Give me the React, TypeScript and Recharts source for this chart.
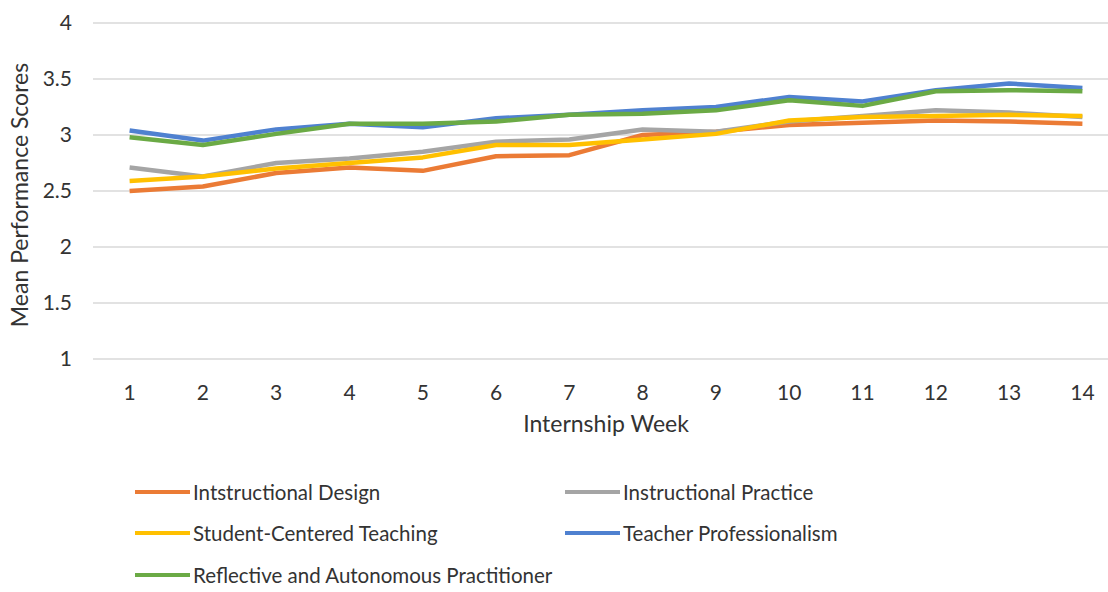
import { LineChart, Line, XAxis, YAxis, CartesianGrid, Label } from "recharts";

const weeks = ["1", "2", "3", "4", "5", "6", "7", "8", "9", "10", "11", "12", "13", "14"];

const instructionalDesign = [2.5, 2.54, 2.66, 2.71, 2.68, 2.81, 2.82, 3.0, 3.03, 3.09, 3.11, 3.13, 3.12, 3.1];
const instructionalPractice = [2.71, 2.63, 2.75, 2.79, 2.85, 2.94, 2.96, 3.05, 3.03, 3.12, 3.17, 3.22, 3.2, 3.16];
const studentCentered = [2.59, 2.63, 2.7, 2.75, 2.8, 2.91, 2.91, 2.96, 3.01, 3.13, 3.16, 3.17, 3.18, 3.17];
const professionalism = [3.04, 2.95, 3.05, 3.1, 3.07, 3.15, 3.18, 3.22, 3.25, 3.34, 3.3, 3.4, 3.46, 3.42];
const reflective = [2.98, 2.91, 3.01, 3.1, 3.1, 3.12, 3.18, 3.19, 3.22, 3.31, 3.26, 3.39, 3.4, 3.39];

const yTicks = [1, 1.5, 2, 2.5, 3, 3.5, 4];

const series = [
  { key: "design", name: "Intstructional Design", values: instructionalDesign, color: "#EB7B35" },
  { key: "practice", name: "Instructional Practice", values: instructionalPractice, color: "#A5A5A5" },
  { key: "student", name: "Student-Centered Teaching", values: studentCentered, color: "#FFC000" },
  { key: "prof", name: "Teacher Professionalism", values: professionalism, color: "#4F81D0" },
  { key: "reflect", name: "Reflective and Autonomous Practitioner", values: reflective, color: "#6BAA45" },
];

const data = weeks.map((week, i) => {
  const row: Record<string, string | number> = { week };
  series.forEach((s) => {
    row[s.key] = s.values[i];
  });
  return row;
});

const FONT = "Lato, 'Open Sans', sans-serif";
const TEXT = "#333333";

export default function App() {
  return (
    <div
      style={{
        position: "absolute",
        left: 0,
        top: 0,
        width: 1108,
        height: 592,
        overflow: "hidden",
        background: "#fff",
        fontFamily: FONT,
      }}
    >
      <LineChart
        width={1119}
        height={592}
        data={data}
        margin={{ top: 23, right: 0, left: 0, bottom: 153 }}
      >
        <CartesianGrid vertical={false} stroke="#D9D9D9" strokeWidth={1.5} />
        <XAxis
          dataKey="week"
          height={80}
          padding={{ left: 36.6, right: 36.6 }}
          axisLine={false}
          tickLine={false}
          tickMargin={20}
          interval={0}
          tick={{ fontSize: 21, fill: TEXT, fontFamily: FONT }}
        >
          <Label
            value="Internship Week"
            position="insideBottom"
            offset={7}
            style={{ fontSize: 23, fill: TEXT, fontFamily: FONT }}
          />
        </XAxis>
        <YAxis
          width={93}
          domain={[1, 4]}
          ticks={yTicks}
          axisLine={false}
          tickLine={false}
          tickMargin={15}
          tick={{ fontSize: 21, fill: TEXT, fontFamily: FONT }}
        >
          <Label
            content={() => (
              <text
                transform="translate(28,195) rotate(-90)"
                textAnchor="middle"
                style={{ fontSize: 23, fill: TEXT, fontFamily: FONT }}
              >
                Mean Performance Scores
              </text>
            )}
          />
        </YAxis>
        {series.map((s) => (
          <Line
            key={s.key}
            type="linear"
            dataKey={s.key}
            name={s.name}
            stroke={s.color}
            strokeWidth={4.5}
            strokeLinejoin="round"
            dot={false}
            activeDot={false}
            isAnimationActive={false}
          />
        ))}
      </LineChart>

      <div
        style={{
          position: "absolute",
          left: 135,
          top: 471,
          width: 860,
          display: "grid",
          gridTemplateColumns: "430px 430px",
          gridAutoRows: "41.5px",
        }}
      >
        {series.map((s) => (
          <div key={s.key} style={{ display: "flex", alignItems: "center" }}>
            <span
              style={{
                display: "inline-block",
                width: 55,
                height: 4,
                background: s.color,
                marginRight: 3,
              }}
            />
            <span style={{ fontSize: 20.5, color: TEXT, whiteSpace: "nowrap" }}>{s.name}</span>
          </div>
        ))}
      </div>
    </div>
  );
}
